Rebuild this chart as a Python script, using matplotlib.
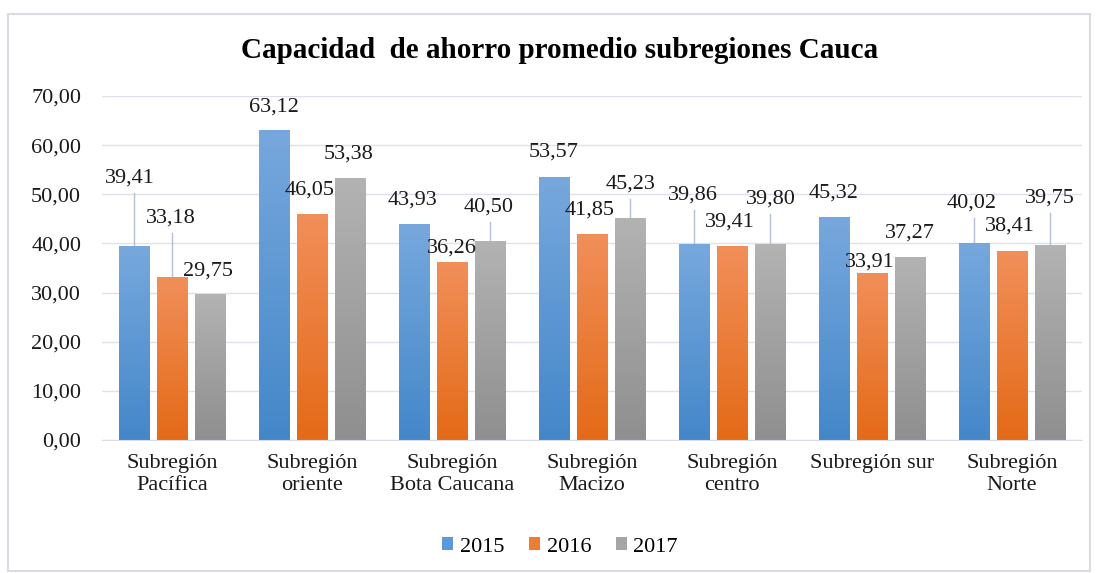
import matplotlib
matplotlib.use('Agg')
import matplotlib.pyplot as plt
import numpy as np
from matplotlib.patches import Patch, Rectangle
from matplotlib.colors import LinearSegmentedColormap

# data
categorias = ['Subregión\nPacífica', 'Subregión\noriente', 'Subregión\nBota Caucana',
              'Subregión\nMacizo', 'Subregión\ncentro', 'Subregión sur', 'Subregión\nNorte']
anios = ['2015', '2016', '2017']
v2015 = [39.41, 63.12, 43.93, 53.57, 39.86, 45.32, 40.02]
v2016 = [33.18, 46.05, 36.26, 41.85, 39.41, 33.91, 38.41]
v2017 = [29.75, 53.38, 40.50, 45.23, 39.80, 37.27, 39.75]
yticks = [0, 10, 20, 30, 40, 50, 60, 70]

# label placement (pixel offsets of label centre above bar top, leader line yes/no)
lab_dy = [[68, 23, 24, 25, 49, 24, 40],
          [59, 24, 14, 24, 24, 11, 25],
          [23, 24, 34, 34, 45, 24, 47]]
lab_dx = [[-4, 0, -2, 0, -1, 0, -2],
          [-1, -2, 0, -2, -2, -2, -2],
          [-2, -1, -1, 1, 1, 0, 0]]
leader = [[1, 0, 0, 0, 1, 0, 1],
          [1, 0, 0, 0, 0, 0, 0],
          [0, 0, 1, 1, 1, 0, 1]]

plt.rcParams['font.family'] = ['Liberation Serif', 'DejaVu Serif']

colores = ['#5b9bd5', '#ed7d31', '#a5a5a5']
grad = [('#4487c9', '#77a8dd'), ('#e46a17', '#f18f5a'), ('#8f8f8f', '#b3b3b3')]

fig = plt.figure(figsize=(10.96, 5.73), dpi=100)
ax_h = 344
ax = fig.add_axes([102/1096, 133/573, 980/1096, ax_h/573])

x = np.arange(len(categorias))
w = 0.215
off = 0.271
series = [v2015, v2016, v2017]
grad_img = np.linspace(0, 1, 256).reshape(-1, 1)
px = 70 / ax_h  # data units per pixel

for k, vals in enumerate(series):
    bars = ax.bar(x + (k - 1) * off, vals, w, color=colores[k], zorder=2)
    cmap = LinearSegmentedColormap.from_list('g%d' % k, list(grad[k]))
    for j, b in enumerate(bars):
        x0, y0 = b.get_x(), b.get_y()
        im = ax.imshow(grad_img, cmap=cmap, aspect='auto', origin='lower',
                       extent=(x0, x0 + b.get_width(), y0, y0 + b.get_height()), zorder=3)
        im.set_clip_path(b)
        xc = x0 + b.get_width() / 2
        txt = ('%.2f' % vals[j]).replace('.', ',')
        if leader[k][j]:
            ax.plot([xc, xc], [vals[j], vals[j] + (lab_dy[k][j] - 15) * px],
                    color='#b4c0d4', lw=1, zorder=1)
        ax.annotate(txt, xy=(xc, vals[j]), xytext=(lab_dx[k][j], lab_dy[k][j]),
                    textcoords='offset pixels', ha='center', va='center',
                    fontsize=16, color='#1a1a1a', zorder=5)

ax.set_xlim(-0.5, 6.5)
ax.set_ylim(0, 70)
ax.set_yticks(yticks)
ax.set_yticklabels(['%d,00' % t for t in yticks])
ax.set_xticks(x)
ax.set_xticklabels(categorias)
ax.tick_params(axis='y', length=0, pad=15, labelsize=16, labelcolor='#1a1a1a')
ax.tick_params(axis='x', length=0, pad=10, labelsize=16, labelcolor='#1a1a1a')
ax.grid(axis='y', color='#dde1ea', lw=1, zorder=0)
ax.set_axisbelow(True)
for s in ['top', 'right', 'left']:
    ax.spines[s].set_visible(False)
ax.spines['bottom'].set_color('#d9dde6')
ax.spines['bottom'].set_zorder(4)

fig.text(560/1096, 1 - 50/573, 'Capacidad  de ahorro promedio subregiones Cauca',
         ha='center', va='center', fontsize=21, fontweight='bold')

handles = [Patch(facecolor=c, label=a) for c, a in zip(colores, anios)]
fig.legend(handles=handles, loc='center', bbox_to_anchor=(560/1096, 1 - 547/573),
           ncol=3, frameon=False, fontsize=16, handlelength=0.5, handleheight=0.5,
           handletextpad=0.3, columnspacing=1.1)

fig.add_artist(Rectangle((8/1096, 2/573), 1082/1096, 557/573, transform=fig.transFigure,
                         fill=False, edgecolor='#d9dce3', lw=1.5))

plt.savefig('out.png', dpi=100)
